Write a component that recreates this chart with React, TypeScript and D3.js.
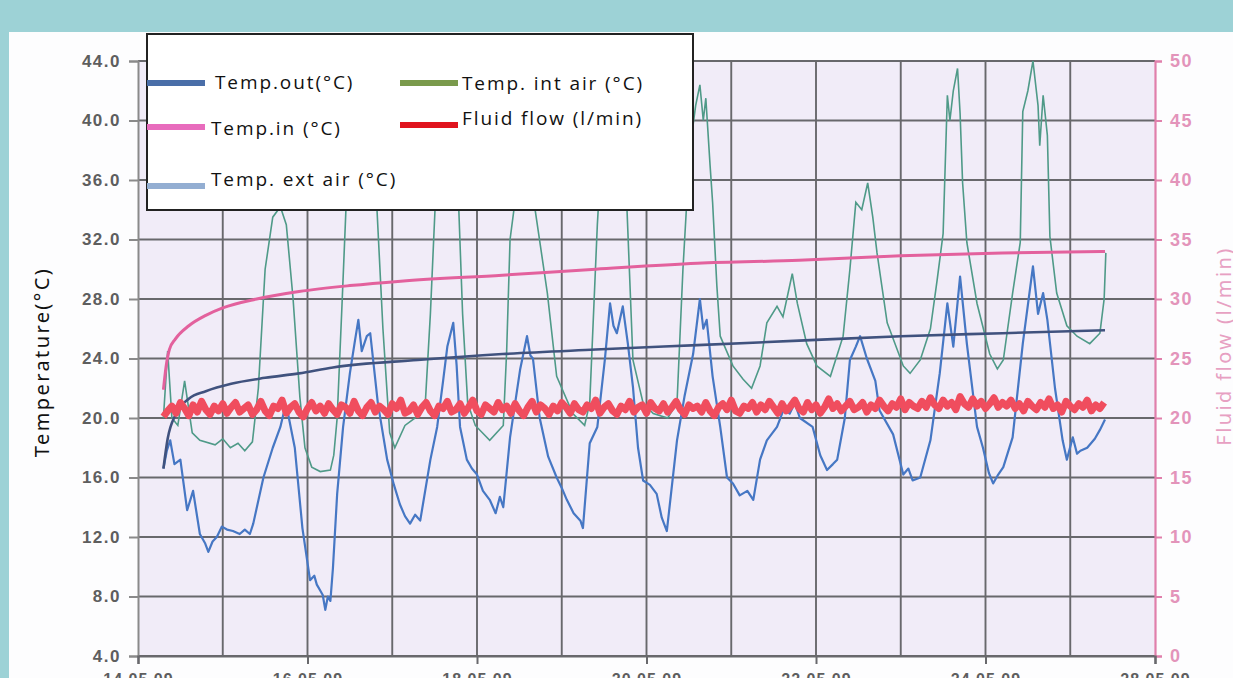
import React, { useRef, useEffect } from 'react';
import * as d3 from 'd3';

// x values are days after 14.05.09 00:00, temperatures in °C, flow in l/min
const dayTicks = [0, 2, 4, 6, 8, 10, 12];
const dateLabels = ['14.05.09', '16.05.09', '18.05.09', '20.05.09', '22.05.09', '24.05.09', '28.05.09'];
const tempTicks = [4, 8, 12, 16, 20, 24, 28, 32, 36, 40, 44];
const flowTicks = [0, 5, 10, 15, 20, 25, 30, 35, 40, 45, 50];

const tempIn: [number, number][] = [
  [0.3, 21.9], [0.33, 23.4], [0.37, 24.6], [0.44, 25.3], [0.6, 26.2], [0.8, 26.9], [1.0, 27.4],
  [1.4, 28.0], [1.9, 28.5], [2.5, 28.9], [3.1, 29.2], [4.3, 29.6], [5.4, 30.0], [6.6, 30.4],
  [7.8, 30.6], [9.0, 30.9], [10.2, 31.1], [11.41, 31.2],
];

const tempOut: [number, number][] = [
  [0.3, 16.6], [0.35, 18.6], [0.45, 20.3], [0.6, 21.3], [0.8, 21.8], [1.1, 22.3], [1.5, 22.7],
  [1.9, 23.0], [2.3, 23.4], [3.3, 23.9], [4.3, 24.3], [5.4, 24.6], [6.6, 24.9], [7.8, 25.2],
  [9.0, 25.5], [10.2, 25.7], [11.41, 25.9],
];

const tempExt: [number, number][] = [
  [0.3, 16.6], [0.34, 17.8], [0.38, 18.5], [0.43, 16.9], [0.5, 17.2], [0.58, 13.8], [0.65, 15.1],
  [0.73, 12.2], [0.79, 11.6], [0.83, 11.0], [0.88, 11.7], [0.93, 12.0], [0.99, 12.7], [1.05, 12.5],
  [1.12, 12.4], [1.2, 12.2], [1.26, 12.5], [1.32, 12.2], [1.36, 12.9], [1.48, 16.0], [1.59, 18.0],
  [1.68, 19.4], [1.73, 20.6], [1.77, 20.3], [1.85, 18.0], [1.94, 12.6], [2.03, 9.1], [2.08, 9.4],
  [2.11, 8.8], [2.15, 8.4], [2.18, 8.1], [2.21, 7.1], [2.24, 8.0], [2.27, 7.7], [2.3, 9.9],
  [2.35, 14.9], [2.42, 19.4], [2.5, 23.0], [2.56, 25.2], [2.6, 26.6], [2.64, 24.5], [2.7, 25.5],
  [2.74, 25.7], [2.83, 21.0], [2.94, 17.2], [3.02, 15.5], [3.09, 14.2], [3.15, 13.4], [3.21, 12.9],
  [3.27, 13.5], [3.33, 13.1], [3.45, 17.2], [3.53, 19.4], [3.6, 22.5], [3.65, 24.8], [3.72, 26.4],
  [3.76, 23.5], [3.8, 19.4], [3.88, 17.2], [3.94, 16.6], [4.0, 16.2], [4.07, 15.1], [4.15, 14.5],
  [4.22, 13.6], [4.27, 14.7], [4.31, 14.0], [4.39, 18.7], [4.45, 21.0], [4.51, 23.3], [4.59, 25.5],
  [4.63, 24.2], [4.66, 24.0], [4.74, 20.0], [4.84, 17.4], [4.94, 16.0], [5.0, 15.3], [5.06, 14.5],
  [5.14, 13.6], [5.22, 13.1], [5.25, 12.6], [5.33, 18.3], [5.42, 19.4], [5.51, 24.0], [5.57, 27.7],
  [5.61, 26.2], [5.65, 25.7], [5.72, 27.5], [5.78, 25.0], [5.84, 22.1], [5.9, 18.0], [5.96, 15.8],
  [6.04, 15.5], [6.12, 14.9], [6.18, 13.3], [6.24, 12.4], [6.36, 18.5], [6.45, 21.5], [6.55, 24.3],
  [6.63, 28.0], [6.67, 26.0], [6.71, 26.6], [6.78, 22.8], [6.87, 19.4], [6.95, 16.0], [7.02, 15.6],
  [7.1, 14.8], [7.19, 15.1], [7.26, 14.5], [7.34, 17.2], [7.42, 18.5], [7.54, 19.4], [7.62, 20.6],
  [7.69, 20.3], [7.75, 21.0], [7.81, 20.0], [7.96, 19.4], [8.05, 17.5], [8.13, 16.5], [8.2, 16.9],
  [8.25, 17.2], [8.34, 20.0], [8.4, 23.9], [8.47, 24.8], [8.52, 25.5], [8.6, 24.0], [8.7, 22.5],
  [8.75, 20.5], [8.91, 18.9], [9.03, 16.2], [9.09, 16.6], [9.14, 15.8], [9.23, 16.0], [9.35, 18.5],
  [9.46, 23.0], [9.55, 27.7], [9.62, 24.8], [9.7, 29.5], [9.78, 25.0], [9.9, 19.4], [9.97, 18.0],
  [10.04, 16.3], [10.09, 15.6], [10.15, 16.2], [10.21, 16.7], [10.32, 18.7], [10.44, 25.0],
  [10.56, 30.2], [10.62, 27.0], [10.68, 28.4], [10.73, 26.6], [10.82, 22.0], [10.91, 18.5],
  [10.96, 17.2], [11.03, 18.7], [11.08, 17.6], [11.12, 17.8], [11.2, 18.0], [11.29, 18.6],
  [11.35, 19.2], [11.41, 19.9],
];

const tempInt: [number, number][] = [
  [0.3, 20.0], [0.35, 24.5], [0.4, 20.0], [0.47, 19.5], [0.55, 22.5], [0.64, 19.0], [0.73, 18.5],
  [0.91, 18.2], [1.0, 18.6], [1.09, 18.0], [1.18, 18.3], [1.26, 17.8], [1.35, 18.4], [1.42, 22.0],
  [1.5, 30.0], [1.59, 33.5], [1.68, 34.2], [1.75, 33.0], [1.83, 28.0], [1.91, 21.4], [1.97, 18.0],
  [2.05, 16.7], [2.15, 16.4], [2.27, 16.5], [2.31, 17.5], [2.35, 20.0], [2.41, 28.0], [2.47, 36.3],
  [2.56, 41.0], [2.64, 42.5], [2.74, 40.0], [2.82, 34.0], [2.89, 26.0], [2.97, 19.0], [3.03, 18.0],
  [3.15, 19.5], [3.27, 20.0], [3.39, 21.0], [3.45, 27.0], [3.52, 36.0], [3.6, 41.0], [3.68, 42.0],
  [3.76, 38.0], [3.83, 27.0], [3.89, 21.0], [3.98, 19.5], [4.15, 18.5], [4.31, 19.5], [4.35, 24.5],
  [4.39, 32.0], [4.47, 35.5], [4.57, 38.0], [4.66, 35.0], [4.83, 28.4], [4.94, 22.8], [5.13, 20.3],
  [5.27, 19.5], [5.33, 21.0], [5.42, 33.0], [5.49, 40.0], [5.57, 42.0], [5.69, 40.0], [5.77, 34.0],
  [5.84, 23.9], [5.96, 21.0], [6.08, 20.3], [6.25, 20.0], [6.36, 21.0], [6.43, 30.0], [6.51, 38.0],
  [6.58, 41.0], [6.63, 42.4], [6.67, 40.0], [6.7, 41.5], [6.75, 37.0], [6.78, 34.5], [6.83, 28.9],
  [6.87, 25.5], [7.02, 23.5], [7.14, 22.6], [7.24, 22.0], [7.34, 23.5], [7.42, 26.4], [7.54, 27.5],
  [7.61, 26.8], [7.72, 29.7], [7.78, 27.7], [7.89, 25.0], [8.01, 23.5], [8.17, 22.8], [8.32, 25.5],
  [8.4, 30.0], [8.47, 34.5], [8.54, 34.0], [8.61, 35.8], [8.67, 33.5], [8.72, 31.1], [8.84, 26.4],
  [9.03, 23.5], [9.11, 23.0], [9.23, 23.9], [9.35, 26.0], [9.43, 29.3], [9.5, 32.4], [9.55, 41.7],
  [9.58, 40.0], [9.62, 42.0], [9.67, 43.5], [9.7, 40.5], [9.73, 35.8], [9.78, 31.8], [9.9, 27.7],
  [10.05, 24.3], [10.14, 23.3], [10.21, 23.9], [10.32, 28.4], [10.41, 31.8], [10.44, 40.6],
  [10.5, 42.0], [10.56, 44.0], [10.62, 41.0], [10.64, 38.3], [10.68, 41.7], [10.73, 39.0],
  [10.76, 32.2], [10.84, 28.4], [10.96, 26.2], [11.08, 25.5], [11.23, 25.0], [11.35, 25.7],
  [11.4, 28.0], [11.42, 31.1],
];

// fluid flow sampled every 0.05 day from day 0.3
const flowStart = 0.3;
const flowStep = 0.05;
const fluidFlow = [
  20.1, 20.6, 21.0, 20.4, 21.3, 20.8, 20.2, 21.1, 20.5, 21.4, 20.7, 20.3, 21.0, 20.6, 21.2, 20.4, 20.9, 21.3, 20.5, 20.8,
  21.1, 20.3, 20.7, 21.4, 20.6, 20.2, 21.0, 20.8, 21.5, 20.4, 20.9, 21.2, 20.5, 20.1, 20.8, 21.3, 20.6, 21.0, 20.4, 21.2,
  20.7, 20.3, 21.1, 20.9, 20.4, 21.4, 20.6, 20.2, 20.9, 21.3, 20.5, 21.0, 20.7, 20.3, 21.2, 20.8, 21.5, 20.4, 20.6, 21.1,
  20.3, 20.9, 21.3, 20.6, 20.2, 21.0, 20.8, 21.4, 20.5, 20.7, 21.2, 20.4, 20.9, 21.5, 20.6, 20.3, 21.1, 20.8, 20.5, 21.3,
  20.7, 21.0, 20.4, 21.2, 20.6, 20.2, 20.9, 21.4, 20.5, 21.1, 20.8, 20.3, 21.0, 20.6, 21.3, 20.9, 20.4, 21.2, 20.7, 20.5,
  21.1, 20.8, 21.5, 20.4, 20.9, 21.2, 20.6, 20.3, 21.0, 20.7, 21.4, 20.5, 20.9, 21.1, 20.4, 21.3, 20.8, 20.6, 21.2, 20.5,
  20.9, 21.4, 20.7, 20.3, 21.1, 20.8, 21.0, 20.5, 21.3, 20.6, 20.2, 20.9, 21.2, 20.7, 21.5, 20.6, 20.4, 21.0, 20.8, 21.3,
  20.5, 21.1, 20.7, 21.4, 20.9, 20.4, 21.2, 20.6, 21.0, 21.5, 20.8, 20.5, 21.3, 20.7, 21.1, 20.4, 20.9, 21.6, 20.8, 21.2,
  20.6, 21.0, 21.4, 20.7, 20.9, 21.3, 20.5, 21.1, 20.8, 21.5, 21.0, 20.6, 21.2, 20.9, 21.6, 20.7, 21.3, 21.0, 20.8, 21.4,
  20.9, 21.7, 21.1, 20.8, 21.5, 21.0, 21.3, 20.7, 21.8, 21.2, 20.9, 21.6, 21.0, 21.4, 20.8, 21.2, 21.7, 20.9, 21.3, 21.0,
  21.5, 20.8, 21.2, 20.6, 21.4, 21.0, 20.7, 21.3, 20.9, 21.6, 20.8, 21.1, 20.5, 21.4, 21.0, 20.7, 21.2, 20.9, 21.5, 20.6,
  21.1, 20.8, 21.3,
];

const legendItems = [
  { label: 'Temp.out(°C)', color: '#4a6ea8' },
  { label: 'Temp.in (°C)', color: '#e86cbd' },
  { label: 'Temp. ext air (°C)', color: '#93aed2' },
  { label: 'Temp. int air (°C)', color: '#7a9a4c' },
  { label: 'Fluid flow (l/min)', color: '#e0141e' },
];

const App = () => {
  const svgRef = useRef<SVGSVGElement>(null);
  const width = 1233;
  const height = 678;
  const plot = { left: 138, right: 1155, top: 61, bottom: 656 };

  useEffect(() => {
    const svg = d3.select(svgRef.current);
    svg.selectAll('*').remove();

    // background + white sheet
    svg.append('rect').attr('width', width).attr('height', height).attr('fill', '#9dd2d6');
    svg.append('rect').attr('x', 9).attr('y', 32).attr('width', width - 9).attr('height', height - 32).attr('fill', '#fdfdfe');

    const x = d3.scaleLinear().domain([0, 12]).range([plot.left, plot.right]);
    const yL = d3.scaleLinear().domain([4, 44]).range([plot.bottom, plot.top]);
    const yR = d3.scaleLinear().domain([0, 50]).range([plot.bottom, plot.top]);

    svg.append('rect')
      .attr('x', plot.left).attr('y', plot.top)
      .attr('width', plot.right - plot.left).attr('height', plot.bottom - plot.top)
      .attr('fill', '#f1ecf8');

    // grid
    const grid = svg.append('g').attr('stroke', '#68686c').attr('stroke-width', 1.9);
    grid.selectAll('.h').data(tempTicks).enter().append('line')
      .attr('x1', plot.left).attr('x2', plot.right)
      .attr('y1', (d) => yL(d)).attr('y2', (d) => yL(d));
    grid.selectAll('.v').data(d3.range(1, 12)).enter().append('line')
      .attr('y1', plot.top).attr('y2', plot.bottom)
      .attr('x1', (d) => x(d)).attr('x2', (d) => x(d));

    // axes
    const left = svg.append('g')
      .attr('transform', `translate(${plot.left},0)`)
      .call(d3.axisLeft(yL).tickValues(tempTicks).tickFormat(d3.format('.1f')).tickSize(9).tickPadding(8));
    left.select('.domain').attr('stroke', '#8a8a8a').attr('stroke-width', 2);
    left.selectAll('.tick line').attr('stroke', '#8a8a8a').attr('stroke-width', 2);
    left.selectAll('.tick text')
      .attr('fill', '#5e5e5e').attr('font-size', 17).attr('font-weight', 'bold')
      .attr('font-family', 'Liberation Sans, Arial, sans-serif').attr('letter-spacing', 1.5);

    const right = svg.append('g')
      .attr('transform', `translate(${plot.right},0)`)
      .call(d3.axisRight(yR).tickValues(flowTicks).tickSize(7).tickPadding(8));
    right.select('.domain').attr('stroke', '#e07fab').attr('stroke-width', 2.2);
    right.selectAll('.tick line').attr('stroke', '#e07fab').attr('stroke-width', 2);
    right.selectAll('.tick text')
      .attr('fill', '#e394ba').attr('font-size', 18).attr('font-weight', 'bold')
      .attr('font-family', 'Liberation Sans, Arial, sans-serif').attr('letter-spacing', 1.5);

    const bottom = svg.append('g')
      .attr('transform', `translate(0,${plot.bottom})`)
      .call(d3.axisBottom(x).tickValues(dayTicks).tickFormat((d, i) => dateLabels[i]).tickSize(8).tickPadding(10));
    bottom.select('.domain').attr('stroke', '#68686c').attr('stroke-width', 2.2);
    bottom.selectAll('.tick line').attr('stroke', '#68686c').attr('stroke-width', 2);
    bottom.selectAll('.tick text')
      .attr('fill', '#5e5e5e').attr('font-size', 16).attr('font-weight', 'bold')
      .attr('font-family', 'Liberation Sans, Arial, sans-serif').attr('letter-spacing', 1);

    // series
    const lineL = d3.line<[number, number]>().x((d) => x(d[0])).y((d) => yL(d[1]));
    const lineR = d3.line<number>()
      .x((d, i) => x(flowStart + i * flowStep))
      .y((d) => yR(d));

    svg.append('path').datum(tempInt).attr('d', lineL)
      .attr('fill', 'none').attr('stroke', '#4f9a88').attr('stroke-width', 1.6);
    svg.append('path').datum(tempExt).attr('d', lineL)
      .attr('fill', 'none').attr('stroke', '#4677c4').attr('stroke-width', 2.2).attr('stroke-linejoin', 'round');
    svg.append('path').datum(tempOut).attr('d', lineL.curve(d3.curveMonotoneX))
      .attr('fill', 'none').attr('stroke', '#40527e').attr('stroke-width', 2.6);
    svg.append('path').datum(tempIn).attr('d', lineL.curve(d3.curveMonotoneX))
      .attr('fill', 'none').attr('stroke', '#e3619d').attr('stroke-width', 3);
    svg.append('path').datum(fluidFlow).attr('d', lineR)
      .attr('fill', 'none').attr('stroke', '#f04d5e').attr('stroke-width', 7).attr('stroke-linejoin', 'round');

    // legend
    const lg = svg.append('g');
    lg.append('rect').attr('x', 147).attr('y', 34).attr('width', 546).attr('height', 176)
      .attr('fill', '#ffffff').attr('stroke', '#222').attr('stroke-width', 2);
    const pos = [
      { x: 147, y: 83, tx: 215, ty: 82 },
      { x: 147, y: 127, tx: 211, ty: 128 },
      { x: 147, y: 186, tx: 211, ty: 179 },
      { x: 400, y: 83, tx: 462, ty: 83 },
      { x: 400, y: 125, tx: 462, ty: 118 },
    ];
    const items = lg.selectAll('.item').data(legendItems).enter().append('g');
    items.append('line')
      .attr('x1', (d, i) => pos[i].x).attr('x2', (d, i) => pos[i].x + 58)
      .attr('y1', (d, i) => pos[i].y).attr('y2', (d, i) => pos[i].y)
      .attr('stroke', (d) => d.color).attr('stroke-width', 6);
    items.append('text')
      .attr('x', (d, i) => pos[i].tx).attr('y', (d, i) => pos[i].ty)
      .attr('dy', '0.35em')
      .attr('font-family', 'Open Sans, sans-serif').attr('font-size', 19).attr('letter-spacing', 1.9)
      .attr('fill', '#111')
      .text((d) => d.label);

    // axis titles
    svg.append('text')
      .attr('transform', 'translate(42,362) rotate(-90)')
      .attr('text-anchor', 'middle').attr('dy', '0.35em')
      .attr('font-family', 'Noto Sans, sans-serif').attr('font-size', 20).attr('letter-spacing', 2.4)
      .attr('fill', '#111').text('Temperature(°C)');
    svg.append('text')
      .attr('transform', 'translate(1224,346) rotate(-90)')
      .attr('text-anchor', 'middle').attr('dy', '0.35em')
      .attr('font-family', 'Noto Sans, sans-serif').attr('font-size', 20).attr('letter-spacing', 2.4)
      .attr('fill', '#e7a0c2').text('Fluid flow (l/min)');
  }, []);

  return (
    <svg ref={svgRef} width={width} height={height}
      style={{ position: 'absolute', left: 0, top: 0, display: 'block' }} />
  );
};

export default App;
